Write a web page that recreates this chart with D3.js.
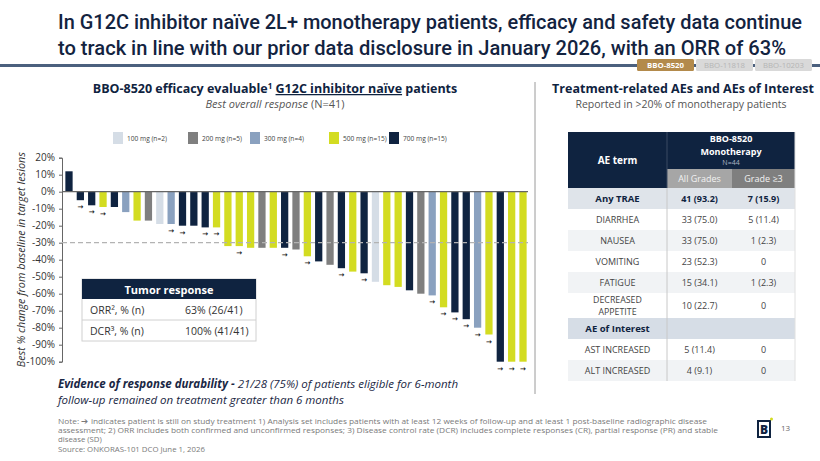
<!DOCTYPE html>
<html>
<head>
<meta charset="utf-8">
<script src="https://cdn.jsdelivr.net/npm/d3@7"></script>
<style>
  html, body { margin: 0; padding: 0; background: #fff; }
  svg { display: block; font-family: 'Open Sans', sans-serif; }
</style>
</head>
<body>
<svg id="slide" width="820" height="461"></svg>
<script>
// dose groups + legend
const doses = ['100 mg', '200 mg', '300 mg', '500 mg', '700 mg'];
const doseN = [2, 5, 4, 15, 15];
const doseColors = ['#d5dde6', '#7f7f7f', '#8aa1bf', '#d3dc21', '#0f2340'];

// waterfall: one entry per patient, sorted as in the figure
const patientDose = [
  '700 mg', '700 mg', '700 mg', '500 mg', '700 mg', '300 mg', '500 mg', '200 mg', '100 mg', '300 mg',
  '700 mg', '700 mg', '700 mg', '500 mg', '500 mg', '500 mg', '500 mg', '200 mg', '500 mg', '700 mg',
  '200 mg', '500 mg', '700 mg', '200 mg', '700 mg', '500 mg', '700 mg', '100 mg', '500 mg', '500 mg',
  '700 mg', '200 mg', '300 mg', '500 mg', '700 mg', '700 mg', '300 mg', '500 mg', '700 mg', '500 mg',
  '500 mg'
];
const bestChange = [
  12, -5, -8, -9, -9, -12, -17, -17, -19, -19,
  -20, -20, -21, -21, -32, -32, -33, -33, -33, -33,
  -34, -38, -41, -43, -45, -47, -48, -53, -55, -56,
  -58, -60, -61, -68, -71, -75, -80, -84, -100, -100,
  -100
];
const onTreatment = [
  0, 1, 1, 1, 0, 0, 0, 0, 0, 1,
  1, 0, 1, 1, 0, 1, 0, 0, 0, 1,
  0, 1, 0, 0, 1, 0, 1, 0, 0, 0,
  0, 0, 1, 1, 1, 1, 1, 1, 1, 1,
  1
];
const yTicks = [20, 10, 0, -10, -20, -30, -40, -50, -60, -70, -80, -90, -100];
const prThreshold = -30;

// tumor response box
const responseLabels = ['ORR², % (n)', 'DCR³, % (n)'];
const responseValues = ['63% (26/41)', '100% (41/41)'];

// AE table
const aeTerms = ['Any TRAE', 'DIARRHEA', 'NAUSEA', 'VOMITING', 'FATIGUE', 'DECREASED APPETITE', 'AE of Interest', 'AST INCREASED', 'ALT INCREASED'];
const aeAllGrades = ['41 (93.2)', '33 (75.0)', '33 (75.0)', '23 (52.3)', '15 (34.1)', '10 (22.7)', '', '5 (11.4)', '4 (9.1)'];
const aeGrade3 = ['7 (15.9)', '5 (11.4)', '1 (2.3)', '0', '1 (2.3)', '0', '', '0', '0'];

const tabs = ['BBO-8520', 'BBO-11818', 'BBO-10203'];

const navy = '#0f2340';
const svg = d3.select('#slide');

// ---------- title + rule ----------
const title = svg.append('g')
  .attr('font-family', 'Roboto, sans-serif')
  .attr('font-weight', 500)
  .attr('font-size', 20)
  .attr('fill', '#13233f');
title.append('text').attr('x', 58).attr('y', 29)
  .attr('textLength', 744).attr('lengthAdjust', 'spacingAndGlyphs')
  .text('In G12C inhibitor naïve 2L+ monotherapy patients, efficacy and safety data continue');
title.append('text').attr('x', 58).attr('y', 55)
  .attr('textLength', 728).attr('lengthAdjust', 'spacingAndGlyphs')
  .text('to track in line with our prior data disclosure in January 2026, with an ORR of 63%');

svg.append('rect').attr('x', 0).attr('y', 64).attr('width', 820).attr('height', 3).attr('fill', '#4b607e');

const tabG = svg.append('g');
tabs.forEach((t, i) => {
  const tx = 637 + i * 59;
  tabG.append('rect').attr('x', tx).attr('y', 59).attr('width', 57).attr('height', 12).attr('rx', 1.5)
    .attr('fill', i === 0 ? '#b38a4b' : '#d9d9d9');
  tabG.append('text').attr('x', tx + 28.5).attr('y', 68.3)
    .attr('text-anchor', 'middle').attr('font-size', 7.8)
    .attr('font-weight', i === 0 ? 700 : 400)
    .attr('fill', i === 0 ? '#fff' : '#b5b5b5')
    .text(t);
});

// ---------- left panel headings ----------
const lh = svg.append('text').attr('x', 275).attr('y', 93)
  .attr('text-anchor', 'middle').attr('font-size', 12.5).attr('font-weight', 700).attr('fill', navy);
lh.append('tspan').text('BBO-8520 efficacy evaluable');
lh.append('tspan').attr('font-size', 8).attr('dy', -4).text('1');
lh.append('tspan').attr('dy', 4).text(' ');
lh.append('tspan').attr('text-decoration', 'underline').text('G12C inhibitor naïve');
lh.append('tspan').text(' patients');

const ls = svg.append('text').attr('x', 275).attr('y', 108)
  .attr('text-anchor', 'middle').attr('font-size', 11).attr('fill', '#555');
ls.append('tspan').attr('font-style', 'italic').text('Best overall response');
ls.append('tspan').text(' (N=41)');

// legend
const legendX = [113, 188, 250, 329, 389];
const legend = svg.append('g').selectAll('g').data(doses).join('g')
  .attr('transform', (d, i) => `translate(${legendX[i]},132)`);
legend.append('rect').attr('width', 10).attr('height', 12).attr('fill', (d, i) => doseColors[i]);
legend.append('text').attr('x', 14).attr('y', 8.8).attr('font-size', 6.6).attr('fill', '#444')
  .text((d, i) => `${d} (n=${doseN[i]})`);

// ---------- waterfall ----------
const color = d3.scaleOrdinal().domain(doses).range(doseColors);
const x = d3.scaleBand()
  .domain(bestChange.map((d, i) => i))
  .range([64, 528])
  .paddingInner(0.36)
  .paddingOuter(0.12);
const y = d3.scaleLinear().domain([-100, 20]).range([361.7, 157.7]);

const yAxis = svg.append('g')
  .attr('transform', 'translate(62,0)')
  .call(d3.axisLeft(y).tickValues(yTicks).tickSize(3).tickPadding(4).tickFormat(d => d + '%'));
yAxis.selectAll('text').attr('font-size', 10).attr('fill', '#333').attr('font-family', "'Open Sans', sans-serif");
yAxis.selectAll('line, path').attr('stroke', '#666');

svg.append('text')
  .attr('transform', `translate(25,${y(-40)}) rotate(-90)`)
  .attr('text-anchor', 'middle').attr('font-size', 10.8).attr('font-style', 'italic').attr('fill', '#333')
  .text('Best % change from baseline in target lesions');

svg.append('g').selectAll('rect').data(bestChange).join('rect')
  .attr('x', (d, i) => x(i))
  .attr('y', d => Math.min(y(d), y(0)))
  .attr('width', x.bandwidth())
  .attr('height', d => Math.abs(y(d) - y(0)))
  .attr('fill', (d, i) => color(patientDose[i]));

svg.append('line')
  .attr('x1', 62).attr('x2', 528).attr('y1', y(prThreshold)).attr('y2', y(prThreshold))
  .attr('stroke', '#b3b3b3').attr('stroke-width', 1.3).attr('stroke-dasharray', '5,3');

svg.append('line')
  .attr('x1', 62).attr('x2', 528).attr('y1', y(0)).attr('y2', y(0))
  .attr('stroke', '#666').attr('stroke-width', 1.2);

// still on treatment markers
svg.append('g').selectAll('text').data(bestChange.map((d, i) => ({ v: d, i })).filter(d => onTreatment[d.i]))
  .join('text')
  .attr('x', d => x(d.i) + x.bandwidth() / 2)
  .attr('y', d => y(Math.min(d.v, 0)) + 9)
  .attr('text-anchor', 'middle').attr('font-size', 7).attr('font-weight', 700)
  .attr('font-family', 'DejaVu Sans, sans-serif').attr('fill', '#222')
  .text('→');

// tumor response box
const tr = svg.append('g');
tr.append('rect').attr('x', 82).attr('y', 279).attr('width', 174).attr('height', 62)
  .attr('fill', '#fff').attr('stroke', '#d0d0d0');
tr.append('rect').attr('x', 82).attr('y', 279).attr('width', 174).attr('height', 20).attr('fill', navy);
tr.append('text').attr('x', 169).attr('y', 293.5).attr('text-anchor', 'middle')
  .attr('font-size', 11).attr('font-weight', 700).attr('fill', '#fff').text('Tumor response');
tr.append('line').attr('x1', 82).attr('x2', 256).attr('y1', 320).attr('y2', 320).attr('stroke', '#d0d0d0');
responseLabels.forEach((l, i) => {
  tr.append('text').attr('x', 90).attr('y', 314 + i * 21).attr('font-size', 10.5).attr('fill', '#333').text(l);
  tr.append('text').attr('x', 185).attr('y', 314 + i * 21).attr('font-size', 10.5).attr('fill', '#333').text(responseValues[i]);
});

// divider
svg.append('line').attr('x1', 535).attr('x2', 535).attr('y1', 82).attr('y2', 394)
  .attr('stroke', '#9a9a9a').attr('stroke-width', 1);

// ---------- right panel ----------
svg.append('text').attr('x', 683).attr('y', 93).attr('text-anchor', 'middle')
  .attr('font-size', 12.5).attr('font-weight', 700).attr('fill', navy)
  .text('Treatment-related AEs and AEs of Interest');
svg.append('text').attr('x', 681).attr('y', 108).attr('text-anchor', 'middle')
  .attr('font-size', 10.5).attr('fill', '#555')
  .text('Reported in >20% of monotherapy patients');

const tx0 = 568, c1 = 667, c2 = 732, tx1 = 795;
const tbl = svg.append('g');
tbl.append('rect').attr('x', tx0).attr('y', 132).attr('width', tx1 - tx0).attr('height', 56).attr('fill', navy);
tbl.append('rect').attr('x', c1).attr('y', 169).attr('width', c2 - c1).attr('height', 19).attr('fill', '#a6a6a6');
tbl.append('rect').attr('x', c2).attr('y', 169).attr('width', tx1 - c2).attr('height', 19).attr('fill', '#7f7f7f');
tbl.append('line').attr('x1', c1).attr('x2', c1).attr('y1', 132).attr('y2', 188).attr('stroke', '#3a4a63');
tbl.append('text').attr('x', (tx0 + c1) / 2).attr('y', 164).attr('text-anchor', 'middle')
  .attr('font-size', 10).attr('font-weight', 700).attr('fill', '#fff').text('AE term');
tbl.append('text').attr('x', (c1 + tx1) / 2).attr('y', 142).attr('text-anchor', 'middle')
  .attr('font-size', 9).attr('font-weight', 700).attr('fill', '#fff').text('BBO-8520');
tbl.append('text').attr('x', (c1 + tx1) / 2).attr('y', 154.6).attr('text-anchor', 'middle')
  .attr('font-size', 9).attr('font-weight', 700).attr('fill', '#fff').text('Monotherapy');
tbl.append('text').attr('x', (c1 + tx1) / 2).attr('y', 165.2).attr('text-anchor', 'middle')
  .attr('font-size', 7).attr('fill', '#aab3c2').text('N=44');
tbl.append('text').attr('x', (c1 + c2) / 2).attr('y', 181.5).attr('text-anchor', 'middle')
  .attr('font-size', 9).attr('fill', '#f2f2f2').text('All Grades');
tbl.append('text').attr('x', (c2 + tx1) / 2).attr('y', 181.5).attr('text-anchor', 'middle')
  .attr('font-size', 9).attr('fill', '#f2f2f2').text('Grade ≥3');

const rowFill = ['#dfe4ea', '#fff', '#f1f3f5', '#fff', '#f1f3f5', '#fff', '#d6dde6', '#fff', '#f1f3f5'];
let ry = 188;
aeTerms.forEach((t, i) => {
  const h = t === 'DECREASED APPETITE' ? 25 : 21;
  const bold = i === 0 || t === 'AE of Interest';
  tbl.append('rect').attr('x', tx0).attr('y', ry).attr('width', tx1 - tx0).attr('height', h).attr('fill', rowFill[i]);
  const mid = ry + h / 2 + 3.3;
  if (t === 'DECREASED APPETITE') {
    ['DECREASED', 'APPETITE'].forEach((w, k) => {
      tbl.append('text').attr('x', (tx0 + c1) / 2).attr('y', ry + 10 + k * 12.4)
        .attr('text-anchor', 'middle').attr('font-size', 8.8).attr('fill', '#444').text(w);
    });
  } else {
    tbl.append('text').attr('x', (tx0 + c1) / 2).attr('y', mid).attr('text-anchor', 'middle')
      .attr('font-size', bold ? 9.5 : 9).attr('font-weight', bold ? 700 : 400)
      .attr('fill', bold ? navy : '#444').text(t);
  }
  [aeAllGrades[i], aeGrade3[i]].forEach((v, j) => {
    tbl.append('text').attr('x', j === 0 ? (c1 + c2) / 2 : (c2 + tx1) / 2).attr('y', mid)
      .attr('text-anchor', 'middle').attr('font-size', 9)
      .attr('font-weight', i === 0 ? 700 : 400)
      .attr('fill', i === 0 ? navy : '#444').text(v);
  });
  ry += h;
});
tbl.append('line').attr('x1', c1).attr('x2', c1).attr('y1', 188).attr('y2', ry).attr('stroke', '#c8c8c8');
tbl.append('line').attr('x1', tx1).attr('x2', tx1).attr('y1', 132).attr('y2', ry).attr('stroke', '#e0e0e0');

// ---------- footer ----------
const ev = svg.append('text').attr('x', 58).attr('y', 388).attr('font-size', 11.5).attr('font-style', 'italic').attr('fill', '#1a2744');
ev.append('tspan').attr('font-weight', 700).text('Evidence of response durability - ');
ev.append('tspan').text('21/28 (75%) of patients eligible for 6-month');
svg.append('text').attr('x', 58).attr('y', 404).attr('font-size', 11.5).attr('font-style', 'italic').attr('fill', '#1a2744')
  .text('follow-up remained on treatment greater than 6 months');

const notes = [
  'Note:  ➔ indicates patient is still on study treatment 1) Analysis set includes patients with at least 12 weeks of follow-up and at least 1 post-baseline radiographic disease',
  'assessment; 2) ORR includes both confirmed and unconfirmed responses;  3) Disease control rate (DCR) includes complete responses (CR), partial response (PR) and stable',
  'disease (SD)',
  'Source: ONKORAS-101 DCO June 1, 2026'
];
const noteLen = [649, 660, null, null];
svg.append('g').selectAll('text').data(notes).join('text')
  .attr('x', 58).attr('y', (d, i) => 424 + i * 9.2)
  .attr('font-size', 7.8).attr('fill', '#7a7a7a')
  .attr('textLength', (d, i) => noteLen[i])
  .attr('lengthAdjust', 'spacingAndGlyphs')
  .text(d => d);

// logo + page number
const logo = svg.append('g');
logo.append('rect').attr('x', 758).attr('y', 421).attr('width', 12).attr('height', 16)
  .attr('fill', 'none').attr('stroke', navy).attr('stroke-width', 2);
logo.append('text').attr('x', 764).attr('y', 434).attr('text-anchor', 'middle')
  .attr('font-size', 12).attr('font-weight', 800).attr('fill', navy).text('B');
logo.append('circle').attr('cx', 771.5).attr('cy', 419).attr('r', 1.5).attr('fill', '#d3dc21');
svg.append('text').attr('x', 781).attr('y', 431).attr('font-size', 8).attr('fill', '#666').text('13');
</script>
</body>
</html>
